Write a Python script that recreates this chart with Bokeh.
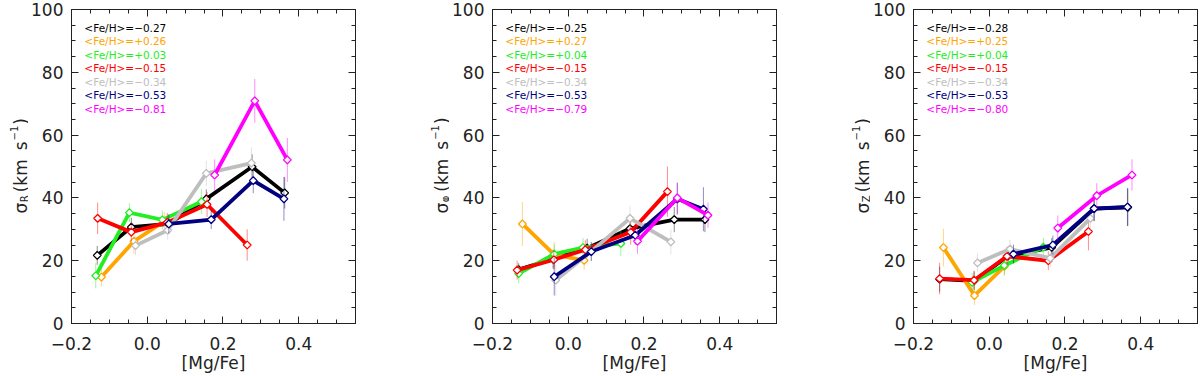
import numpy as np
from bokeh.plotting import figure
from bokeh.layouts import row
from bokeh.models import Range1d, FixedTicker, LinearAxis, Label, ColumnDataSource
from bokeh.core.properties import value
from bokeh.embed import file_html
from bokeh.resources import INLINE

# ---------------- data ----------------
series_colors = ["#000000", "#FFA500", "#22EE22", "#FF0000", "#BEBEBE", "#000080", "#FF00FF"]

# sigma_R panel
R_black_x = [-0.132, -0.042, 0.057, 0.156, 0.277, 0.363]
R_black_y = [21.7, 30.7, 31.7, 39.7, 49.9, 41.6]
R_black_e = [3, 3, 3, 3, 4, 5]
R_orange_x = [-0.121, -0.035, 0.045]
R_orange_y = [14.8, 26.2, 32.5]
R_orange_e = [3, 4, 3]
R_green_x = [-0.136, -0.047, 0.040, 0.143]
R_green_y = [15.2, 35.3, 33.0, 38.8]
R_green_e = [4, 3, 3, 4]
R_red_x = [-0.131, -0.042, 0.053, 0.158, 0.264]
R_red_y = [33.5, 29.1, 32.2, 37.9, 25.0]
R_red_e = [5, 3, 3, 4, 5]
R_gray_x = [-0.031, 0.054, 0.156, 0.275]
R_gray_y = [24.8, 29.7, 47.8, 51.1]
R_gray_e = [3, 3, 4, 5]
R_navy_x = [0.057, 0.169, 0.280, 0.361]
R_navy_y = [31.7, 33.1, 45.5, 39.7]
R_navy_e = [3, 3, 4, 7]
R_magenta_x = [0.178, 0.284, 0.370]
R_magenta_y = [47.3, 70.9, 52.1]
R_magenta_e = [5, 7, 7]
R_feh = ["−0.27", "+0.26", "+0.03", "−0.15", "−0.34", "−0.53", "−0.81"]

# sigma_phi panel
P_black_x = [-0.131, -0.040, 0.050, 0.163, 0.280, 0.361]
P_black_y = [17.2, 20.5, 24.0, 30.2, 33.1, 33.1]
P_black_e = [2, 3, 3, 3, 4, 4]
P_orange_x = [-0.121, -0.037, 0.042]
P_orange_y = [31.7, 21.9, 20.1]
P_orange_e = [7, 4, 3]
P_green_x = [-0.131, -0.037, 0.039, 0.139]
P_green_y = [15.9, 22.1, 24.2, 25.5]
P_green_e = [3, 3, 3, 4]
P_red_x = [-0.135, -0.038, 0.045, 0.165, 0.262]
P_red_y = [17.0, 20.3, 23.5, 29.1, 42.0]
P_red_e = [3, 3, 3, 4, 8]
P_gray_x = [-0.033, 0.060, 0.163, 0.271]
P_gray_y = [13.8, 22.9, 33.5, 26.0]
P_gray_e = [5, 3, 4, 4]
P_navy_x = [-0.037, 0.061, 0.177, 0.288, 0.357]
P_navy_y = [14.9, 22.9, 28.1, 39.7, 36.4]
P_navy_e = [6, 3, 3, 5, 7]
P_magenta_x = [0.183, 0.288, 0.369]
P_magenta_y = [26.2, 40.0, 34.5]
P_magenta_e = [4, 5, 4]
P_feh = ["−0.25", "+0.27", "+0.04", "−0.15", "−0.34", "−0.53", "−0.79"]

# sigma_Z panel
Z_black_x = [-0.131, -0.040, 0.050, 0.165, 0.277, 0.366]
Z_black_y = [14.1, 13.6, 21.5, 24.2, 36.6, 37.0]
Z_black_e = [4, 3, 3, 3, 4, 6]
Z_orange_x = [-0.121, -0.039, 0.040]
Z_orange_y = [24.2, 8.9, 18.2]
Z_orange_e = [6, 3, 3]
Z_green_x = [-0.045, 0.040, 0.143]
Z_green_y = [13.1, 18.5, 24.3]
Z_green_e = [3, 3, 3]
Z_red_x = [-0.131, -0.040, 0.047, 0.156, 0.262]
Z_red_y = [14.3, 13.8, 21.4, 20.0, 29.3]
Z_red_e = [5, 3, 3, 3, 6]
Z_gray_x = [-0.031, 0.055, 0.161, 0.267]
Z_gray_y = [19.3, 23.7, 20.8, 33.5]
Z_gray_e = [3, 3, 3, 4]
Z_navy_x = [0.064, 0.168, 0.277, 0.365]
Z_navy_y = [22.1, 25.0, 36.6, 37.1]
Z_navy_e = [3, 3, 4, 6]
Z_magenta_x = [0.181, 0.284, 0.377]
Z_magenta_y = [30.4, 40.7, 47.3]
Z_magenta_e = [4, 4, 5]
Z_feh = ["−0.28", "+0.25", "+0.04", "−0.15", "−0.34", "−0.53", "−0.80"]

x_major = [-0.2, 0.0, 0.2, 0.4]
x_major_labels = ["−0.2", "0.0", "0.2", "0.4"]
y_major = [0, 20, 40, 60, 80, 100]
y_subscripts = ["R", "φ", "Z"]

# ---------------- styling ----------------
FONT = "DejaVu Sans"
TXT = "#222222"
LW = 28                      # width of the narrow strip holding each rotated y label
W_MAIN, W_LAST = 421 - LW, 358 - LW
B_LEFT, B_TOP, B_BOTTOM = 71 - LW, 9, 53
FRAME_W = 284
FRAME_BOTTOM = 323
FRAME_H = FRAME_BOTTOM - B_TOP
H = B_TOP + FRAME_H + B_BOTTOM

CW = {"σ": 0.634, "φ": 0.75, "R": 0.695, "Z": 0.685, " ": 0.318, "(": 0.39, ")": 0.39,
      "k": 0.579, "m": 0.974, "s": 0.521, "−": 0.838, "1": 0.636}


def text_w(t, size):
    return sum(CW.get(c, 0.6) for c in t) * size


def label_strip(sub):
    # same top/bottom borders as the panels, so its frame lines up with theirs
    f = figure(width=LW, height=H, output_backend="svg", toolbar_location=None,
               x_axis_type=None, y_axis_type=None,
               x_range=Range1d(0, LW), y_range=Range1d(0, FRAME_H),
               min_border_left=0, min_border_right=0,
               min_border_top=B_TOP, min_border_bottom=B_BOTTOM)
    f.grid.visible = False
    f.outline_line_color = None
    big, small = 17, 10
    # (text, font size, baseline shift, gap before)
    pieces = [("σ", big, 0, 0), (sub, small, 4, 0.5), ("(km", big, 0, 3),
              ("s", big, 0, 9), ("−1", small, -7, 1), (")", big, 0, 1)]
    cur = FRAME_BOTTOM - 213     # screen y measured up from the frame bottom
    base_x = 20
    for t, s, dx, gap in pieces:
        cur += gap
        f.add_layout(Label(x=base_x + dx, y=cur, x_units="screen", y_units="screen",
                           text=t, angle=np.pi / 2, text_font=FONT,
                           text_font_size=f"{s}px", text_color=TXT,
                           text_align="left", text_baseline="alphabetic"))
        cur += text_w(t, s)
    return f


def make_panel(series, feh, width, right_border):
    p = figure(width=width, height=H, output_backend="svg", toolbar_location=None,
               x_range=Range1d(-0.2, 0.55), y_range=Range1d(0, 100),
               min_border_left=B_LEFT, min_border_right=right_border,
               min_border_top=B_TOP, min_border_bottom=B_BOTTOM)
    p.grid.visible = False
    p.outline_line_color = "black"
    p.background_fill_color = "white"
    p.border_fill_color = "white"

    xt = FixedTicker(ticks=x_major, minor_ticks=list(np.round(np.arange(-0.2, 0.551, 0.05), 3)))
    yt = FixedTicker(ticks=y_major, minor_ticks=list(range(0, 101, 5)))

    for ax in p.xaxis:
        ax.ticker = xt
        ax.major_label_overrides = {v: s for v, s in zip(x_major, x_major_labels)}
        ax.axis_label = "[Mg/Fe]"
        ax.axis_label_text_font = FONT
        ax.axis_label_text_font_size = "17px"
        ax.axis_label_text_font_style = "normal"
        ax.axis_label_text_color = TXT
        ax.axis_label_standoff = 0
        ax.major_label_standoff = 13
    for ax in p.yaxis:
        ax.ticker = yt
        ax.major_label_standoff = 8
    for ax in list(p.xaxis) + list(p.yaxis):
        ax.major_label_text_font = FONT
        ax.major_label_text_font_size = "17px"
        ax.major_label_text_color = TXT
        ax.major_tick_in = 7
        ax.major_tick_out = 0
        ax.minor_tick_in = 4
        ax.minor_tick_out = 0
        ax.axis_line_color = "#222222"
        ax.major_tick_line_color = "#222222"
        ax.minor_tick_line_color = "#222222"

    for loc, tk, majors in (("above", xt, x_major), ("right", yt, y_major)):
        ax = LinearAxis(ticker=tk, major_label_overrides={v: "" for v in majors},
                        major_label_standoff=0,
                        major_tick_in=7, major_tick_out=0, minor_tick_in=4, minor_tick_out=0,
                        axis_line_color="#222222", major_tick_line_color="#222222",
                        minor_tick_line_color="#222222")
        p.add_layout(ax, loc)

    for (xs, ys, es), col in zip(series, series_colors):
        xs = np.array(xs); ys = np.array(ys); es = np.array(es)
        p.segment(x0=xs, y0=ys - es, x1=xs, y1=ys + es, line_color=col, line_alpha=0.45, line_width=1)
        p.line(xs, ys, line_color=col, line_width=3.8, line_join="miter")
        p.scatter(xs, ys, marker="square", angle=np.pi / 4, size=5.5,
                  line_color=col, line_width=1.3, fill_color="white")

    px_per_unit = FRAME_H / 100.0
    top_y = (FRAME_BOTTOM - 27.3) / px_per_unit
    step = 13.5 / px_per_unit
    ly = [top_y - i * step for i in range(len(feh))]
    src = ColumnDataSource(dict(x=[-0.166] * len(feh), y=ly,
                                t=["<Fe/H>=" + f for f in feh], c=series_colors))
    p.text(x="x", y="y", text="t", text_color="c", source=src,
           text_font=value(FONT), text_font_size="10.5px",
           text_baseline="middle", text_align="left")
    return p


def pack(prefix):
    g = globals()
    return [(g[f"{prefix}_{c}_x"], g[f"{prefix}_{c}_y"], g[f"{prefix}_{c}_e"])
            for c in ["black", "orange", "green", "red", "gray", "navy", "magenta"]]


p1 = make_panel(pack("R"), R_feh, W_MAIN, W_MAIN - B_LEFT - FRAME_W)
p2 = make_panel(pack("P"), P_feh, W_MAIN, W_MAIN - B_LEFT - FRAME_W)
p3 = make_panel(pack("Z"), Z_feh, W_LAST, W_LAST - B_LEFT - FRAME_W)

layout = row(label_strip(y_subscripts[0]), p1,
             label_strip(y_subscripts[1]), p2,
             label_strip(y_subscripts[2]), p3)
open("out.html", "w").write(file_html(layout, INLINE))
